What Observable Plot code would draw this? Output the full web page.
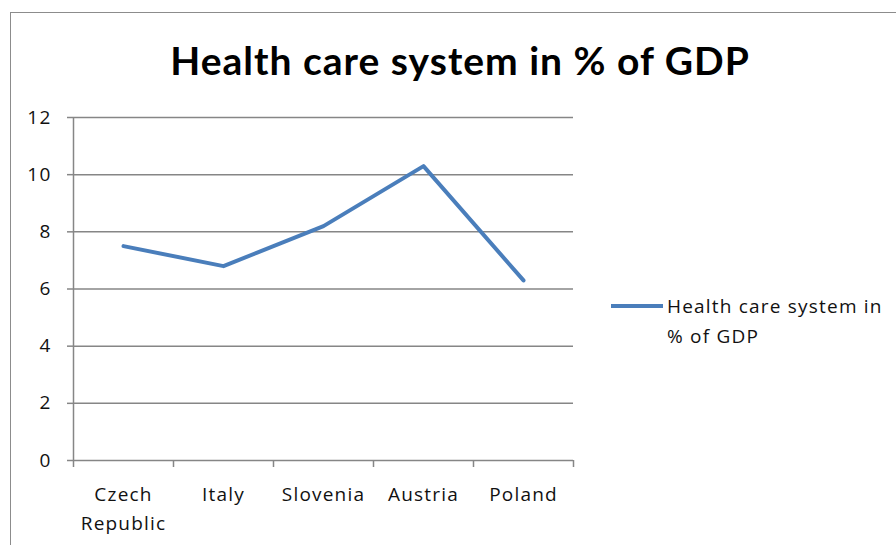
<!DOCTYPE html>
<html><head><meta charset="utf-8">
<script src="https://cdn.jsdelivr.net/npm/d3@7"></script>
<script src="https://cdn.jsdelivr.net/npm/@observablehq/plot@0.6"></script>
<style>
body{margin:0;background:#fff;}
#wrap{position:relative;width:896px;height:545px;overflow:hidden;font-family:"Open Sans", sans-serif;color:#111;}
#frame{position:absolute;left:10px;top:12px;width:900px;height:600px;border-left:1px solid #8c8c8c;border-top:1px solid #8c8c8c;}
#chart{position:absolute;left:0;top:0;}
#title{position:absolute;left:0;top:37px;width:920px;text-align:center;font-family:Lato, sans-serif;font-weight:bold;font-size:39px;letter-spacing:1px;line-height:46px;color:#000;}
#legend{position:absolute;left:611px;top:291px;}
#legline{position:absolute;left:0;top:13px;width:52px;height:4px;background:#4A7EBB;}
#legtext{position:absolute;left:56px;top:0;width:280px;font-size:19px;letter-spacing:1.2px;line-height:30px;color:#111;white-space:nowrap;}
</style></head>
<body>
<div id="wrap">
  <div id="frame"></div>
  <div id="chart"></div>
  <div id="title">Health care system in % of GDP</div>
  <div id="legend"><div id="legline"></div><div id="legtext">Health care system in<br>% of GDP</div></div>
</div>
<script>
const categories = ["Czech\nRepublic", "Italy", "Slovenia", "Austria", "Poland"];
const values = [7.5, 6.8, 8.2, 10.3, 6.3];
const yTicks = [0, 2, 4, 6, 8, 10, 12];
const seriesName = "Health care system in % of GDP";

const data = categories.map((c, i) => ({i, label: c, value: values[i]}));
const boundaries = d3.range(-0.5, categories.length, 1);

const chart = Plot.plot({
  width: 896, height: 545,
  marginLeft: 73, marginRight: 323, marginTop: 117, marginBottom: 85,
  style: {fontFamily: "'Open Sans', sans-serif", fontSize: "19px", color: "#111", background: "transparent", letterSpacing: "1.2px"},
  x: {domain: [-0.5, categories.length - 0.5], axis: null},
  y: {domain: [0, 12], axis: null},
  marks: [
    Plot.ruleY(yTicks, {stroke: "#868686", strokeWidth: 1.5}),
    Plot.axisY(yTicks, {label: null, tickSize: 6, tickPadding: 16, stroke: "#868686", strokeWidth: 1.5, fill: "#111", fontSize: 19, tickFormat: d => d}),
    Plot.ruleX([-0.5], {stroke: "#868686", strokeWidth: 1.5}),
    Plot.axisX(boundaries, {label: null, tickSize: 7, stroke: "#868686", strokeWidth: 1.5, tickFormat: () => ""}),
    Plot.text(data, {x: "i", text: "label", frameAnchor: "bottom", dy: 20, lineAnchor: "top", lineHeight: 1.53, fill: "#111", fontSize: 19}),
    Plot.line(data, {x: "i", y: "value", stroke: "#4A7EBB", strokeWidth: 4, strokeLinejoin: "round", strokeLinecap: "round"})
  ]
});
document.getElementById("chart").appendChild(chart);
</script>
</body></html>
